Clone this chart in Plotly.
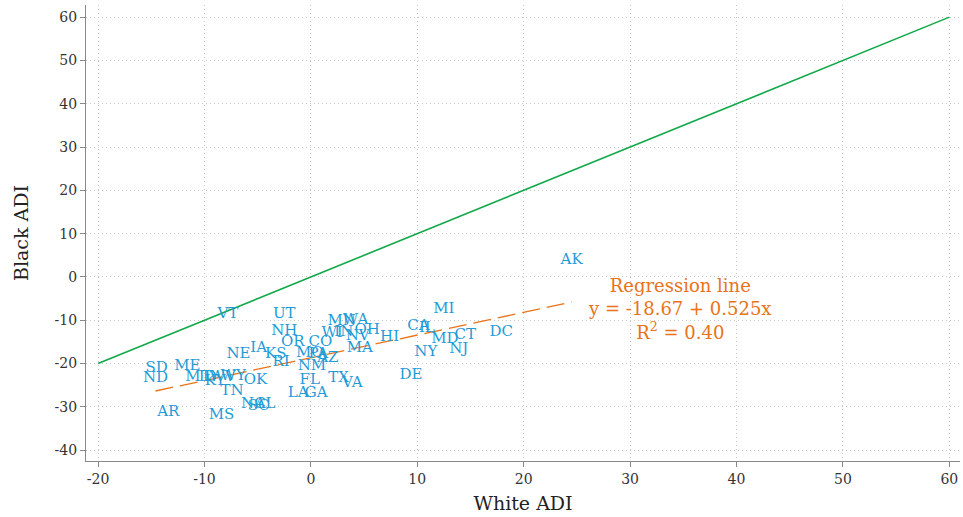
import plotly.graph_objects as go

states = ["AK","MI","CA","IL","HI","MD","CT","DC","NJ","NY","DE",
          "MN","WA","WI","IN","OH","NV","MA","UT","NH","OR","CO",
          "MO","PA","AZ","NM","FL","TX","VA","LA","GA","VT","IA",
          "NE","KS","RI","SD","ND","ME","MT","ID","KY","WV","WY",
          "OK","TN","AR","MS","NC","SC","AL"]
white_adi = [24.5,12.5,10.1,10.9,7.4,12.6,14.5,17.9,13.9,10.8,9.4,
             2.9,4.2,2.0,3.1,5.3,4.4,4.6,-2.5,-2.5,-1.7,0.9,
             -0.1,0.7,1.6,0.1,-0.1,2.6,3.9,-1.2,0.5,-7.8,-4.9,
             -6.8,-3.3,-2.8,-14.5,-14.6,-11.6,-10.6,-9.7,-9.0,-8.3,-7.3,
             -5.2,-7.4,-13.4,-8.4,-5.4,-4.9,-4.3]
black_adi = [3.9,-7.4,-11.4,-11.8,-13.9,-14.4,-13.5,-12.7,-16.6,-17.3,-22.7,
             -10.2,-9.9,-13.0,-12.8,-12.3,-13.7,-16.4,-8.6,-12.5,-15.1,-15.1,
             -17.6,-17.8,-18.7,-20.6,-23.8,-23.4,-24.5,-26.8,-26.8,-8.6,-16.4,
             -17.8,-17.8,-19.6,-21.1,-23.4,-20.6,-23.1,-23.1,-24.0,-23.1,-22.9,
             -23.8,-26.4,-31.2,-31.9,-29.4,-29.8,-29.4]
reg_intercept = -18.67
reg_slope = 0.525
reg_r2 = 0.40
identity_range = [-20, 60]
x_ticks = [-20, -10, 0, 10, 20, 30, 40, 50, 60]
y_ticks = [-40, -30, -20, -10, 0, 10, 20, 30, 40, 50, 60]

FONT = "DejaVu Serif"
label_color = "#1f9bd7"
orange = "#e8731a"
green = "#12a84a"

fig = go.Figure()
fig.add_trace(go.Scatter(x=identity_range, y=identity_range, mode="lines",
                         line=dict(color=green, width=1.6), hoverinfo="skip"))
rx = [min(white_adi), max(white_adi)]
ry = [reg_intercept + reg_slope * v for v in rx]
fig.add_trace(go.Scatter(x=rx, y=ry, mode="lines",
                         line=dict(color=orange, width=1.3, dash="18px,7px"), hoverinfo="skip"))
fig.add_trace(go.Scatter(x=white_adi, y=black_adi, mode="text", text=states,
                         textposition="middle center",
                         textfont=dict(family=FONT, size=15, color=label_color)))

fig.add_annotation(x=34.7, y=-7.3, xref="x", yref="y", showarrow=False,
                   text="Regression line<br>y = %.2f + %.3fx<br>R<sup>2</sup> = %.2f" % (reg_intercept, reg_slope, reg_r2),
                   font=dict(family=FONT, size=18, color=orange), align="center")

axis_common = dict(showline=True, linecolor="#888", linewidth=1.2, ticks="outside",
                   ticklen=5, tickcolor="#888", zeroline=False,
                   showgrid=True, gridcolor="#c8c8c8", griddash="1px,3px", gridwidth=1,
                   tickfont=dict(family=FONT, size=14, color="#333"), mirror=False)

fig.update_layout(
    width=963, height=517,
    margin=dict(l=86, r=3, t=5, b=56),
    plot_bgcolor="white", paper_bgcolor="white",
    showlegend=False,
    xaxis=dict(range=[-21.13, 61.0], tickvals=x_ticks, ticktext=[str(v) for v in x_ticks],
               title=dict(text="White ADI", font=dict(family=FONT, size=19, color="#222"), standoff=10),
               **axis_common),
    yaxis=dict(range=[-42.5, 62.8], tickvals=y_ticks, ticktext=[str(v) for v in y_ticks],
               title=dict(text="Black ADI", font=dict(family=FONT, size=19, color="#222"), standoff=20),
               **axis_common),
)
fig.write_html("out.html")
